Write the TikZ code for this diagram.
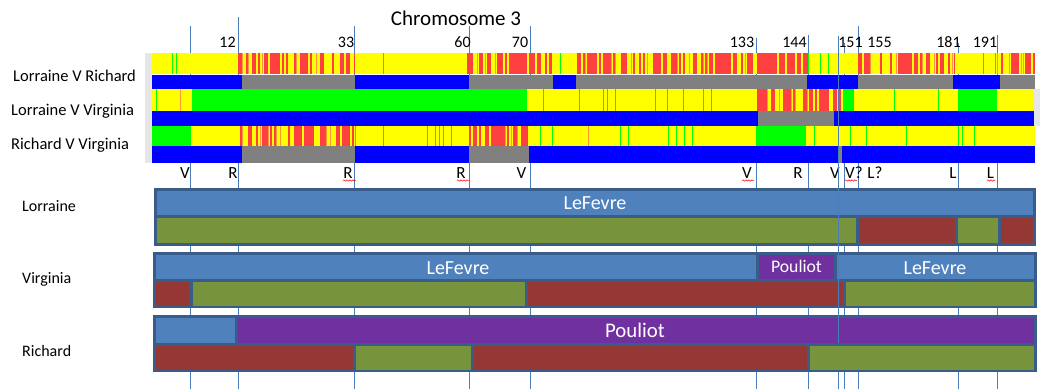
\documentclass[tikz,border=0pt]{standalone}
\usepackage{fontspec}
\setmainfont{Carlito}
\usetikzlibrary{decorations.pathmorphing}
\definecolor{heatyellow}{HTML}{FFFF00}
\definecolor{heatred}{HTML}{FF4040}
\definecolor{heatorange}{HTML}{FF9933}
\definecolor{heatgreen}{HTML}{00FF00}
\definecolor{matchblue}{HTML}{0000FF}
\definecolor{matchgray}{HTML}{808080}
\definecolor{edgegray}{HTML}{E6E6E6}
\definecolor{markline}{HTML}{4A7EBB}
\definecolor{frameblue}{HTML}{385D8A}
\definecolor{lefevre}{HTML}{4F81BD}
\definecolor{pouliot}{HTML}{7030A0}
\definecolor{momred}{HTML}{953735}
\definecolor{dadgreen}{HTML}{77933C}

\newcommand{\hotzone}[4]{%
  \begin{scope}
  \clip (#1,#3) rectangle (#2,#4);
  \fill[heatyellow] (#1,#3) rectangle (#2,#4);
  \pgfmathtruncatemacro{\hzb}{#1+2}%
  \foreach \hx in {#1,\hzb,...,#2}{%
    \pgfmathrandominteger{\hr}{0}{99}%
    \ifnum\hr<54 \fill[heatred] (\hx,#3) rectangle (\hx+2.3,#4);\else
    \ifnum\hr<64 \fill[heatorange] (\hx,#3) rectangle (\hx+1.2,#4);\fi\fi
  }
  \end{scope}}
\newcommand{\calmzone}[4]{%
  \fill[heatyellow] (#1,#3) rectangle (#2,#4);
  \pgfmathtruncatemacro{\czb}{#1+4}%
  \pgfmathtruncatemacro{\cze}{#2-2}%
  \foreach \cx in {#1,\czb,...,\cze}{%
    \pgfmathrandominteger{\cr}{0}{99}%
    \ifnum\cr<13 \fill[heatgreen] (\cx,#3) rectangle (\cx+1.3,#4);\else
    \ifnum\cr<15 \fill[heatorange] (\cx,#3) rectangle (\cx+1.3,#4);\fi\fi
  }}

\tikzset{
  vline/.style={markline, line width=0.9pt},
  numlbl/.style={anchor=base, font=\fontsize{16}{19}\selectfont, inner sep=0pt},
  hitlbl/.style={anchor=base, font=\fontsize{17}{20}\selectfont, inner sep=0pt},
  rowlbl/.style={anchor=base west, font=\fontsize{16.5}{20}\selectfont, inner sep=0pt},
  barlbl/.style={anchor=base, text=white, inner sep=0pt},
  squiggle/.style={red, line width=0.5pt, decorate, decoration={snake, amplitude=0.7pt, segment length=3pt}}
}

\begin{document}
\begin{tikzpicture}[x=1pt, y=-1pt]
\useasboundingbox[fill=white] (0,0) rectangle (1044,389);
\pgfmathsetseed{31}

\foreach \lx/\ly in {190/26, 238/17, 354/26, 469/26, 530/26, 756/38, 808/35, 844/43, 858/26, 958/43, 997/35, 838/36}
  \draw[vline] (\lx,\ly) -- (\lx,389);

\node[anchor=base, font=\fontsize{21}{25}\selectfont, inner sep=0pt] (title) at (456,25) {Chromosome 3};
\foreach \nx/\nt in {227.5/12, 346/33, 462.5/60, 520/70, 742/133, 794.5/144, 850.5/151, 879.5/155, 948.5/181, 985/191}
  \node[numlbl] (num\nt) at (\nx,47) {\nt};

\node[rowlbl] (lvr) at (13,81) {Lorraine V Richard};
\node[rowlbl] (lvv) at (11,115) {Lorraine V Virginia};
\node[rowlbl] (rvv) at (11,149) {Richard V Virginia};

\fill[edgegray] (145,53) rectangle (152,163);
\fill[edgegray] (1034,89) rectangle (1040,126);

\calmzone{152}{238}{53}{74}
\hotzone{238}{355}{53}{74}
\calmzone{355}{465}{53}{74}
\hotzone{465}{552}{53}{74}
\calmzone{552}{573}{53}{74}
\hotzone{573}{808}{53}{74}
\calmzone{808}{858}{53}{74}
\hotzone{858}{955}{53}{74}
\calmzone{955}{997}{53}{74}
\hotzone{997}{1035}{53}{74}
\fill[matchblue] (152,75) rectangle (1035,89);
\foreach \ga/\gb in {242/355, 469/553, 576/807, 858/953, 1000/1035}
  \fill[matchgray] (\ga,75) rectangle (\gb,89);

\calmzone{152}{192}{89}{111}
\fill[heatgreen] (192,89) rectangle (527,111);
\calmzone{527}{757}{89}{111}
\hotzone{757}{843}{89}{111}
\fill[heatgreen] (843,89) rectangle (854,111);
\calmzone{854}{958}{89}{111}
\fill[heatgreen] (958,89) rectangle (997,111);
\calmzone{997}{1034}{89}{111}
\fill[matchblue] (152,111) rectangle (1034,126);
\fill[matchgray] (758,111) rectangle (834,126);

\fill[heatgreen] (152,126) rectangle (191,146);
\calmzone{191}{240}{126}{146}
\hotzone{240}{355}{126}{146}
\calmzone{355}{467}{126}{146}
\hotzone{467}{528}{126}{146}
\calmzone{528}{756}{126}{146}
\fill[heatgreen] (756,126) rectangle (806,146);
\calmzone{806}{1035}{126}{146}
\fill[matchblue] (152,146) rectangle (1035,163);
\foreach \ga/\gb in {242/355, 469/529, 838/842}
  \fill[matchgray] (\ga,146) rectangle (\gb,163);

\foreach \hx/\hl/\hn in {185/V/a, 233/R/b, 348/R/c, 461/R/d, 521.5/V/e, 747/V/f, 798/R/g, 835/V/h, 854/V?/i, 875/L?/j, 953/L/k, 990.5/L/l}
  \node[hitlbl] (hit\hn) at (\hx,178) {\hl};
\foreach \sa/\sb in {343/356, 457/469, 742/754, 845/857, 987/995}
  \draw[squiggle] (\sa,180.5) -- (\sb,180.5);

\node[rowlbl, font=\fontsize{16}{19}\selectfont] (lorraine) at (22,211) {Lorraine};
\node[rowlbl, font=\fontsize{16}{19}\selectfont] (virginia) at (22,283) {Virginia};
\node[rowlbl, font=\fontsize{16}{19}\selectfont] (richard) at (22,356.5) {Richard};

\fill[frameblue] (154,188) rectangle (1036,246);
\fill[lefevre] (157,191) rectangle (1033,215);
\fill[dadgreen] (157,218) rectangle (856,243);
\fill[momred] (859,218) rectangle (955,243);
\fill[dadgreen] (958,218) rectangle (998,243);
\fill[momred] (1001,218) rectangle (1033,243);
\node[barlbl, font=\fontsize{20}{24}\selectfont] (lorraineLF) at (595,209) {LeFevre};

\fill[frameblue] (153,252) rectangle (1037,308);
\fill[lefevre] (156,255) rectangle (756,279);
\fill[pouliot] (759,255) rectangle (834,279);
\fill[lefevre] (837,255) rectangle (1034,279);
\fill[momred] (156,282) rectangle (189,306);
\fill[dadgreen] (193,282) rectangle (525,306);
\fill[momred] (528,282) rectangle (843,306);
\fill[dadgreen] (846,282) rectangle (1034,306);
\node[barlbl, font=\fontsize{20}{24}\selectfont] (virginiaLF) at (458,274) {LeFevre};
\node[barlbl, font=\fontsize{17.7}{21}\selectfont] (virginiaPO) at (796.5,272.7) {Pouliot};
\node[barlbl, font=\fontsize{20}{24}\selectfont] (virginiaLFb) at (935,274) {LeFevre};

\fill[frameblue] (153,315) rectangle (1037,372);
\fill[lefevre] (156,318) rectangle (235,343);
\fill[pouliot] (238,318) rectangle (1034,343);
\fill[momred] (156,346) rectangle (353,370);
\fill[dadgreen] (356,346) rectangle (471,370);
\fill[momred] (474,346) rectangle (807,370);
\fill[dadgreen] (810,346) rectangle (1034,370);
\node[barlbl, font=\fontsize{20.8}{25}\selectfont] (richardPO) at (635,337.3) {Pouliot};

\draw[vline] (838,36) -- (838,343);
\end{tikzpicture}
\end{document}
